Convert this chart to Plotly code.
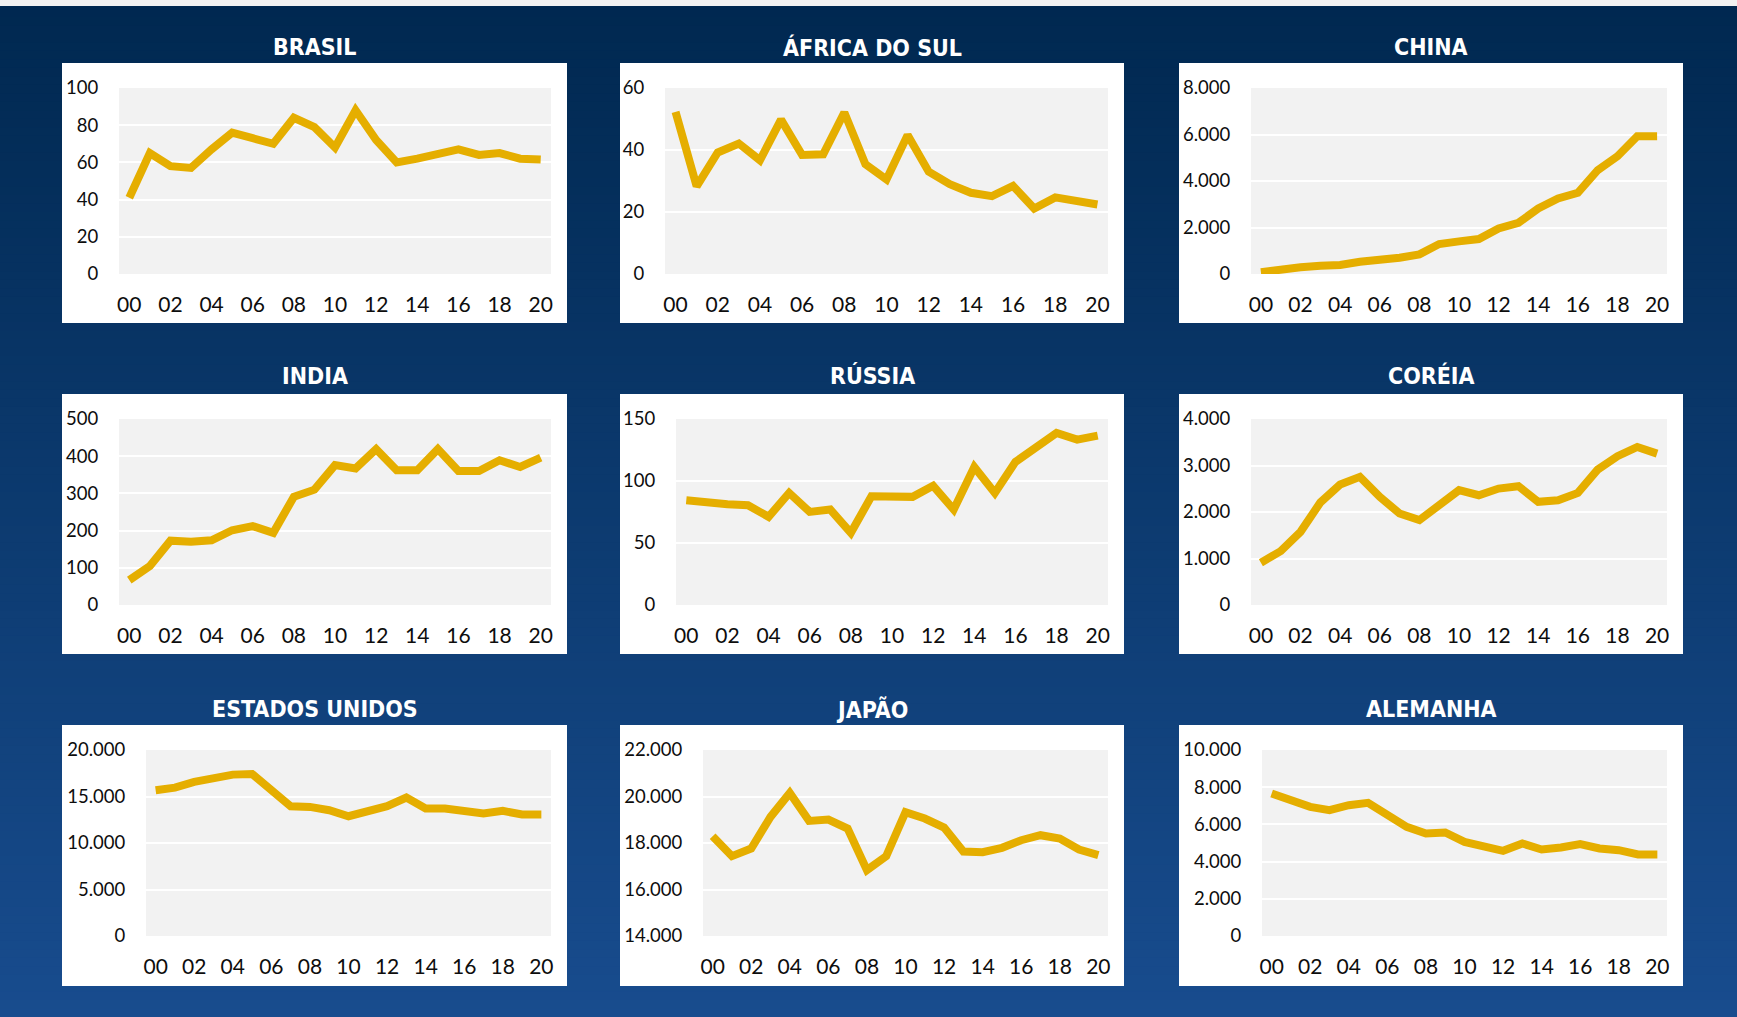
import plotly.graph_objects as go

# ---------------- data ----------------
years = list(range(0, 21))
x_tick_vals = list(range(0, 21, 2))
x_tick_labels = ["00", "02", "04", "06", "08", "10", "12", "14", "16", "18", "20"]

titles = ["BRASIL", "ÁFRICA DO SUL", "CHINA",
          "INDIA", "RÚSSIA", "CORÉIA",
          "ESTADOS UNIDOS", "JAPÃO", "ALEMANHA"]

brasil = [41, 65, 58, 57, 67, 76, 73, 70, 84, 79, 68, 88, 72, 60, 62, 65, 67, 64, 65, 62, 61.5]
africa_do_sul = [52.3, 28.3, 39.2, 42.1, 36.7, 49.8, 38.4, 38.6, 52.1, 35.4, 30.5, 44.8, 33.0, 29.0,
                 26.2, 25.1, 28.4, 21.1, 24.7, 23.8, 22.4]
china = [80, 143, 286, 358, 386, 529, 572, 701, 844, 1288, 1402, 1502, 1960, 2203, 2818, 3247,
         3491, 4464, 5064, 5923, 5930]
india = [67, 105, 173, 170, 174, 201, 212, 194, 291, 310, 376, 367, 419, 362, 362, 419, 360, 360,
         389, 371, 396]
russia = [84.5, 82.4, 81.3, 80.5, 71.1, 90.4, 75.1, 77.0, 58.2, 87.7, 88.0, 87.2, 96.1, 77.0,
          111.3, 90.4, 115.4, 126.9, 138.7, 133.4, 136.6]
coreia = [909, 1159, 1574, 2204, 2590, 2755, 2326, 1968, 1825, 2147, 2469, 2361, 2504, 2555,
          2218, 2254, 2411, 2912, 3199, 3399, 3256]
estados_unidos = [15671, 15957, 16566, 16888, 17353, 17424, 15671, 13954, 13882, 13524, 12880,
                  13346, 13954, 14884, 13703, 13703, 13453, 13167, 13453, 13059, 13059]
japao = [18293, 17434, 17764, 19123, 20154, 18952, 19009, 18622, 16834, 17434, 19324, 19052,
         18665, 17635, 17606, 17792, 18121, 18336, 18193, 17721, 17477]
alemanha = [7657, 7263, 6941, 6762, 7031, 7156, 6530, 5868, 5510, 5564, 5063, 4795, 4580, 4974,
            4652, 4759, 4938, 4705, 4616, 4383, 4383]

series = [brasil, africa_do_sul, china, india, russia, coreia, estados_unidos, japao, alemanha]

y_ticks = [
    [0, 20, 40, 60, 80, 100],
    [0, 20, 40, 60],
    [0, 2000, 4000, 6000, 8000],
    [0, 100, 200, 300, 400, 500],
    [0, 50, 100, 150],
    [0, 1000, 2000, 3000, 4000],
    [0, 5000, 10000, 15000, 20000],
    [14000, 16000, 18000, 20000, 22000],
    [0, 2000, 4000, 6000, 8000, 10000],
]

# ---------------- layout geometry (pixels) ----------------
W, H = 1737, 1017
col_box = [(62, 567), (620, 1124), (1179, 1683)]
row_box = [(63, 323), (394, 654), (725, 986)]
row_plot = [(88, 274), (419, 605), (750, 936)]
title_y = [47, 376, 709]
plot_left = [119, 665, 1251, 119, 676, 1251, 146, 703, 1262]
plot_right = [551, 1108, 1667]

GOLD = "#E5AE00"
TICK_FONT = "Lato, 'Open Sans', sans-serif"
TITLE_FONT = "'Liberation Sans Narrow', 'DejaVu Sans Condensed', 'Roboto', sans-serif"

def px(x):
    return x / W

def py(y):
    return 1 - y / H

fig = go.Figure()
shapes = []

# background gradient
top_c = (0, 40, 80)
bot_c = (24, 76, 142)
N = 120
for i in range(N):
    t = i / (N - 1)
    c = tuple(int(round(top_c[k] + (bot_c[k] - top_c[k]) * t)) for k in range(3))
    y0 = i * H / N
    y1 = (i + 1) * H / N + 1
    shapes.append(dict(type="rect", xref="paper", yref="paper", x0=0, x1=1,
                       y0=py(min(y1, H)), y1=py(y0), line=dict(width=0),
                       fillcolor="rgb(%d,%d,%d)" % c, layer="below"))
# top light strip
shapes.append(dict(type="rect", xref="paper", yref="paper", x0=0, x1=1, y0=py(6), y1=1,
                   line=dict(width=0), fillcolor="#F2F2F2", layer="below"))

annotations = []
layout_axes = {}
for i in range(9):
    r, c = divmod(i, 3)
    bx0, bx1 = col_box[c]
    by0, by1 = row_box[r]
    pt0, pt1 = row_plot[r]
    shapes.append(dict(type="rect", xref="paper", yref="paper", x0=px(bx0), x1=px(bx1),
                       y0=py(by1), y1=py(by0), line=dict(width=0), fillcolor="white",
                       layer="below"))
    shapes.append(dict(type="rect", xref="paper", yref="paper",
                       x0=px(plot_left[i]), x1=px(plot_right[c]),
                       y0=py(pt1), y1=py(pt0), line=dict(width=0), fillcolor="#F2F2F2",
                       layer="below"))
    annotations.append(dict(text="<b>%s</b>" % titles[i], x=px((bx0 + bx1) / 2), y=py(title_y[r]),
                            xref="paper", yref="paper", showarrow=False,
                            xanchor="center", yanchor="middle",
                            font=dict(family=TITLE_FONT, size=23, color="white")))
    n = "" if i == 0 else str(i + 1)
    yt = y_ticks[i]
    layout_axes["xaxis" + n] = dict(
        domain=[px(plot_left[i]), px(plot_right[c])], anchor="y" + n,
        range=[-0.5, 20.5], tickvals=x_tick_vals, ticktext=x_tick_labels,
        showgrid=False, zeroline=False, showline=False, automargin=False,
        ticks="outside", ticklen=12, tickcolor="rgba(0,0,0,0)",
        tickfont=dict(family=TICK_FONT, size=21, color="#0D0D0D"), fixedrange=True)
    layout_axes["yaxis" + n] = dict(
        domain=[py(pt1), py(pt0)], anchor="x" + n,
        range=[yt[0], yt[-1]], tickvals=yt, tickformat=",d",
        showgrid=True, gridcolor="white", gridwidth=2, zeroline=False, showline=False,
        automargin=False,
        ticks="outside", ticklen=16, tickcolor="rgba(0,0,0,0)",
        tickfont=dict(family=TICK_FONT, size=18.5, color="#0D0D0D"), fixedrange=True)
    fig.add_trace(go.Scatter(x=years, y=series[i], mode="lines",
                             line=dict(color=GOLD, width=8),
                             xaxis="x" + n, yaxis="y" + n, showlegend=False,
                             hoverinfo="skip", cliponaxis=False))

fig.update_layout(
    width=W, height=H, autosize=False,
    margin=dict(l=0, r=0, t=0, b=0, pad=0, autoexpand=False),
    paper_bgcolor="#0B3063", plot_bgcolor="#F2F2F2",
    separators=",.",
    shapes=shapes, annotations=annotations,
    **layout_axes,
)

fig.write_html("out.html", config={"displayModeBar": False},
               post_script="document.body.style.margin='0';document.body.style.overflow='hidden';")
